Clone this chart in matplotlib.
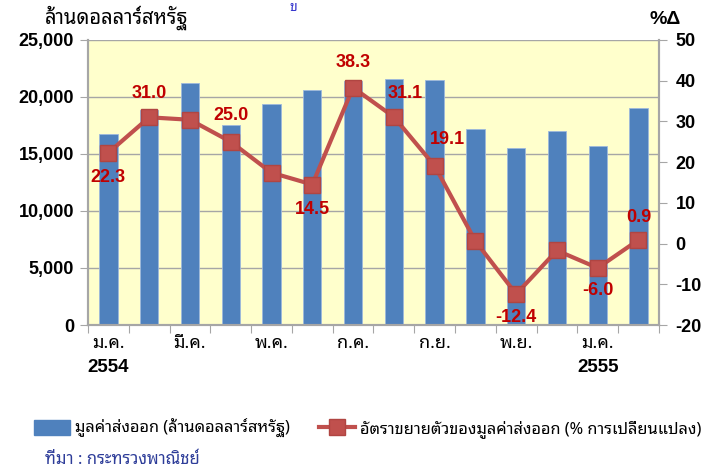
import matplotlib
matplotlib.use("Agg")
import matplotlib.pyplot as plt
from matplotlib.lines import Line2D
from matplotlib.patches import Patch

# export value (million USD) and growth (% yoy), Jan 2554 - Feb 2555
months = ["ม.ค.", "ก.พ.", "มี.ค.", "เม.ย.", "พ.ค.", "มิ.ย.", "ก.ค.",
          "ส.ค.", "ก.ย.", "ต.ค.", "พ.ย.", "ธ.ค.", "ม.ค.", "ก.พ."]
export_value = [16750, 18850, 21200, 17500, 19400, 20600, 21400,
                21550, 21450, 17150, 15500, 17050, 15700, 19050]
growth = [22.3, 31.0, 30.4, 25.0, 17.4, 14.5, 38.3,
          31.1, 19.1, 0.6, -12.4, -1.7, -6.0, 0.9]
# which points carry a label, and where (dx, dy in points)
label_pos = {0: (0, -18), 1: (0, 17), 3: (0, 19), 5: (0, -18), 6: (0, 18),
             7: (8, 17), 8: (9, 19), 10: (0, -17), 12: (0, -16), 13: (0, 16)}
year_labels = {0: "2554", 12: "2555"}

THAI = ["Noto Sans Thai Looped", "DejaVu Sans"]
NUM = ["Liberation Sans", "DejaVu Sans"]
BLUE = "#4F81BD"
RED = "#C0504D"
GRID = "#A6A6A6"

fig = plt.figure(figsize=(7.1, 4.7), dpi=100)
ax = fig.add_axes([0.124, 0.3085, 0.804, 0.6065])
ax2 = ax.twinx()

x = list(range(len(months)))
ax.set_facecolor("#FFFFCC")
ax.bar(x, export_value, width=0.45, color=BLUE, edgecolor="#9DB9DC",
       linewidth=0.6, zorder=2)
ax.set_axisbelow(True)
ax.set_xlim(-0.5, len(months) - 0.5)
ax.set_ylim(0, 25000)
ax.set_yticks(range(0, 25001, 5000))
ax.set_yticklabels([f"{v:,}" for v in range(0, 25001, 5000)],
                   fontfamily=NUM, fontweight="bold", fontsize=13)
ax.grid(axis="y", color=GRID, linewidth=1)

# month ticks every two months, tick marks on category boundaries
ax.set_xticks([i - 0.5 for i in range(len(months) + 1)])
ax.set_xticklabels([])
ax.tick_params(axis="x", length=6, color=GRID)
ax.tick_params(axis="y", length=6, color=GRID, pad=4)
for i in range(0, len(months), 2):
    ax.text(i, -0.062, months[i], transform=ax.get_xaxis_transform(),
            ha="center", va="center", fontfamily=THAI, fontweight="bold",
            fontsize=13)
for i, yr in year_labels.items():
    ax.text(i, -0.15, yr, transform=ax.get_xaxis_transform(),
            ha="center", va="center", fontfamily=NUM, fontweight="bold",
            fontsize=13.5)

ax2.plot(x, growth, color=RED, linewidth=3, marker="s", markersize=11,
         markerfacecolor=RED, markeredgecolor="#B04542", zorder=3)
ax2.set_ylim(-20, 50)
ax2.set_yticks(range(-20, 51, 10))
ax2.set_yticklabels([str(v) for v in range(-20, 51, 10)],
                    fontfamily=NUM, fontweight="bold", fontsize=13)
ax2.tick_params(axis="y", length=6, color=GRID, pad=6)
for i, (dx, dy) in label_pos.items():
    ax2.annotate(f"{growth[i]:.1f}", (x[i], growth[i]), xytext=(dx, dy),
                 textcoords="offset points", ha="center", va="center",
                 color="#C00000", fontfamily=NUM, fontweight="bold",
                 fontsize=13, zorder=4)

for a in (ax, ax2):
    for s in a.spines.values():
        s.set_color(GRID)
        s.set_linewidth(1.5)
    a.spines["top"].set_visible(False)

fig.text(0.063, 0.963, "ล้านดอลลาร์สหรัฐ", fontfamily=THAI, fontsize=14.5,
         ha="left", va="center")
fig.text(0.937, 0.958, "%Δ", fontfamily=NUM, fontweight="bold", fontsize=14,
         ha="center", va="center")
fig.text(0.413, 0.999, "ข", fontfamily=THAI, fontsize=10, color="#3333CC",
         ha="center", va="top")

handles = [Patch(facecolor=BLUE, edgecolor=BLUE),
           Line2D([0], [0], color=RED, linewidth=3, marker="s",
                  markersize=11, markerfacecolor=RED, markeredgecolor="#B04542")]
labels = ["มูลค่าส่งออก (ล้านดอลลาร์สหรัฐ)",
          "อัตราขยายตัวของมูลค่าส่งออก (% การเปลี่ยนแปลง)"]
fig.legend(handles, labels, loc="center", bbox_to_anchor=(0.518, 0.088),
           ncol=2, frameon=False, prop={"family": THAI, "size": 11.8},
           handlelength=2.2, handleheight=1.0, handletextpad=0.3,
           columnspacing=1.8)

fig.text(0.063, 0.022, "ที่มา : กระทรวงพาณิชย์", fontfamily=THAI, fontsize=12,
         color="#2E3D99", ha="left", va="center")

fig.savefig("out.png", dpi=100)
